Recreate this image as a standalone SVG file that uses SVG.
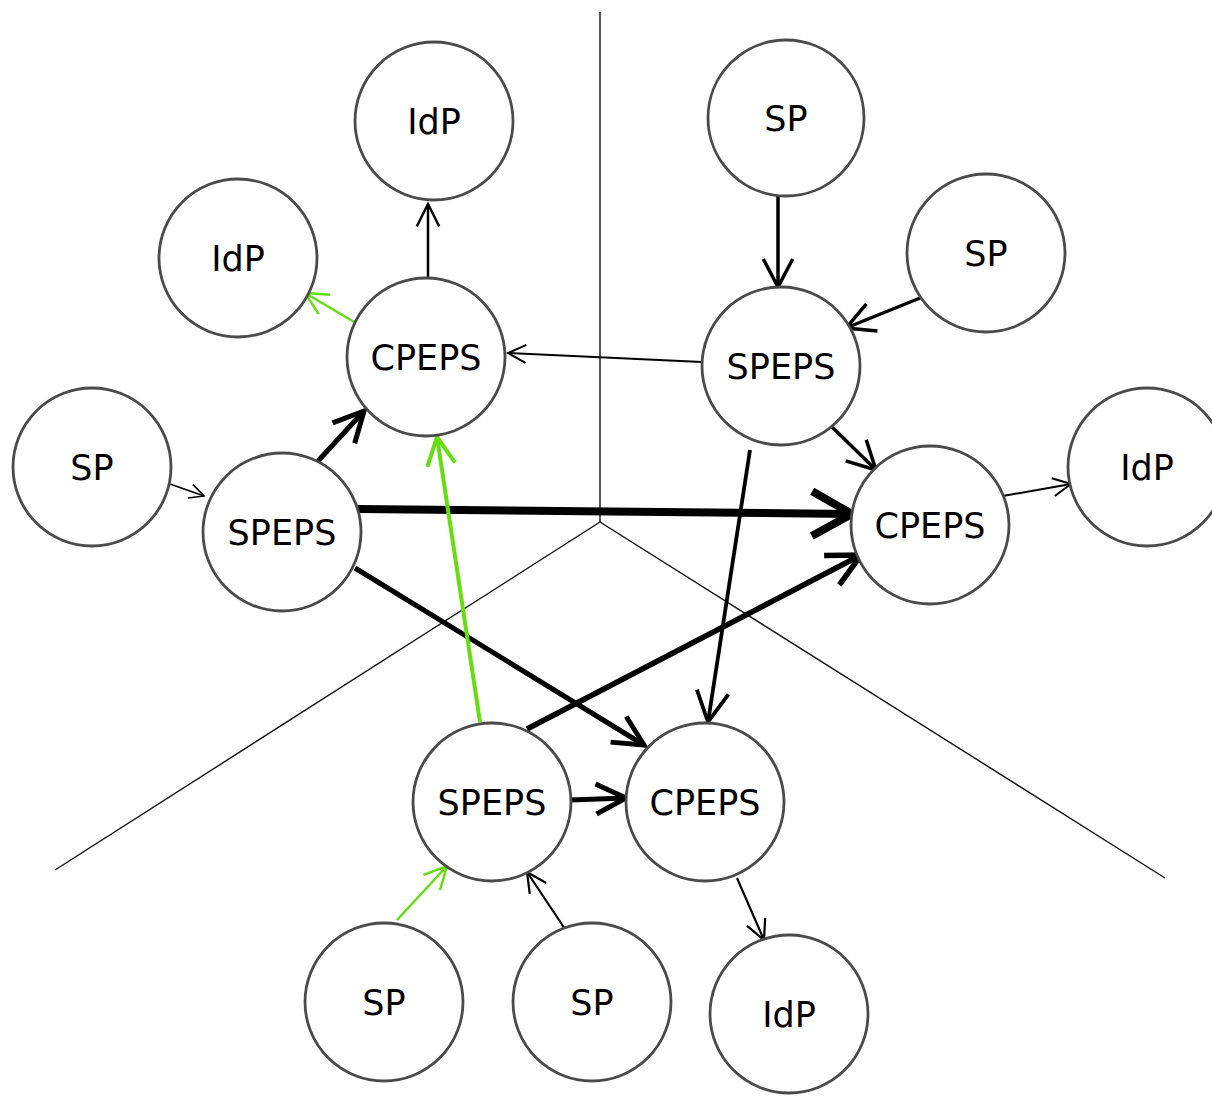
<svg xmlns="http://www.w3.org/2000/svg" width="1212" height="1097" viewBox="0 0 1212 1097">
<style>
.node circle{fill:#fff;stroke:#4a4a4a;stroke-width:2.8}
.node text{font-family:"DejaVu Sans","Liberation Sans",sans-serif;font-size:35px;text-anchor:middle;fill:#000}
.bg line{stroke:#111;stroke-width:1.4}
.c line{stroke:#000;fill:none}
.c .t{marker-end:url(#ah-t)}
.c .m{marker-end:url(#ah-m)}
.c .k{marker-end:url(#ah-k)}
.c .b{marker-end:url(#ah-b)}
.c line.g{stroke:#66dd11}
.c .gt{marker-end:url(#ahg-t)}
.c .gm{marker-end:url(#ahg-m)}
</style>
<defs>
<marker id="ah-t" viewBox="-12 -6 13 12" markerWidth="13" markerHeight="12" refX="0" refY="0" orient="auto" markerUnits="strokeWidth" overflow="visible">
<path d="M-9,-4.5 L0,0 L-9,4.5" fill="none" stroke="#000" stroke-width="1"/>
</marker>
<marker id="ah-m" viewBox="-12 -6 13 12" markerWidth="13" markerHeight="12" refX="0" refY="0" orient="auto" markerUnits="strokeWidth" overflow="visible">
<path d="M-8,-4.2 L0,0 L-8,4.2" fill="none" stroke="#000" stroke-width="1"/>
</marker>
<marker id="ah-k" viewBox="-12 -6 13 12" markerWidth="13" markerHeight="12" refX="0" refY="0" orient="auto" markerUnits="strokeWidth" overflow="visible">
<path d="M-6,-3 L0,0 L-6,3" fill="none" stroke="#000" stroke-width="1"/>
</marker>
<marker id="ah-b" viewBox="-12 -6 13 12" markerWidth="13" markerHeight="12" refX="0" refY="0" orient="auto" markerUnits="strokeWidth" overflow="visible">
<path d="M-5,-2.8 L0,0 L-5,2.8" fill="none" stroke="#000" stroke-width="1"/>
</marker>
<marker id="ahg-t" viewBox="-12 -6 13 12" markerWidth="13" markerHeight="12" refX="0" refY="0" orient="auto" markerUnits="strokeWidth" overflow="visible">
<path d="M-9,-4.5 L0,0 L-9,4.5" fill="none" stroke="#66dd11" stroke-width="1"/>
</marker>
<marker id="ahg-m" viewBox="-12 -6 13 12" markerWidth="13" markerHeight="12" refX="0" refY="0" orient="auto" markerUnits="strokeWidth" overflow="visible">
<path d="M-7,-3.5 L0,0 L-7,3.5" fill="none" stroke="#66dd11" stroke-width="1"/>
</marker>
</defs>
<rect width="1212" height="1097" fill="#fff"/>
<g class="bg">
<line x1="600" y1="12" x2="600" y2="522"/>
<line x1="600" y1="522" x2="55" y2="870"/>
<line x1="600" y1="522" x2="1165" y2="878"/>
</g>
<g class="c">
<line class="t" x1="428" y1="277" x2="428" y2="204" style="stroke-width:2.5"/>
<line class="g gt" x1="356" y1="323" x2="305" y2="293" style="stroke-width:2.5"/>
<line class="t" x1="702" y1="362" x2="508" y2="353" style="stroke-width:2"/>
<line class="t" x1="170" y1="484" x2="204" y2="496" style="stroke-width:1.6"/>
<line class="k" x1="318" y1="461" x2="364" y2="411" style="stroke-width:5"/>
<line class="b" x1="358" y1="509" x2="852" y2="514" style="stroke-width:8"/>
<line class="k" x1="355" y1="568" x2="644" y2="745" style="stroke-width:5"/>
<line class="g gm" x1="480" y1="722" x2="437" y2="437" style="stroke-width:4"/>
<line class="k" x1="527" y1="729" x2="861" y2="555" style="stroke-width:5.5"/>
<line class="k" x1="570" y1="800" x2="626" y2="798" style="stroke-width:5"/>
<line class="m" x1="778" y1="196" x2="778" y2="287" style="stroke-width:3.5"/>
<line class="m" x1="920" y1="298" x2="846" y2="328" style="stroke-width:3.5"/>
<line class="m" x1="830" y1="425" x2="876" y2="470" style="stroke-width:3.5"/>
<line class="m" x1="750" y1="450" x2="708" y2="722" style="stroke-width:3.8"/>
<line class="t" x1="1003" y1="496" x2="1071" y2="484" style="stroke-width:2"/>
<line class="g gt" x1="397" y1="920" x2="447" y2="866" style="stroke-width:2.5"/>
<line class="t" x1="565" y1="929" x2="527" y2="872" style="stroke-width:2.2"/>
<line class="t" x1="737" y1="878" x2="764" y2="940" style="stroke-width:2.2"/>
</g>
<g id="idp-top" class="node"><circle cx="434" cy="121" r="79"/><text x="434" y="134">IdP</text></g>
<g id="idp-left" class="node"><circle cx="238" cy="258" r="79"/><text x="238" y="271">IdP</text></g>
<g id="cpeps-tl" class="node"><circle cx="426" cy="357" r="79"/><text x="426" y="370">CPEPS</text></g>
<g id="sp-left" class="node"><circle cx="92" cy="467" r="79"/><text x="92" y="480">SP</text></g>
<g id="speps-left" class="node"><circle cx="282" cy="532" r="79"/><text x="282" y="545">SPEPS</text></g>
<g id="sp-top" class="node"><circle cx="786" cy="118" r="78"/><text x="786" y="131">SP</text></g>
<g id="sp-right" class="node"><circle cx="986" cy="253" r="79"/><text x="986" y="266">SP</text></g>
<g id="speps-right" class="node"><circle cx="781" cy="366" r="79"/><text x="781" y="379">SPEPS</text></g>
<g id="cpeps-right" class="node"><circle cx="930" cy="525" r="79"/><text x="930" y="538">CPEPS</text></g>
<g id="idp-right" class="node"><circle cx="1147" cy="467" r="79"/><text x="1147" y="480">IdP</text></g>
<g id="speps-bottom" class="node"><circle cx="492" cy="802" r="79"/><text x="492" y="815">SPEPS</text></g>
<g id="cpeps-bottom" class="node"><circle cx="705" cy="802" r="79"/><text x="705" y="815">CPEPS</text></g>
<g id="sp-bl" class="node"><circle cx="384" cy="1002" r="79"/><text x="384" y="1015">SP</text></g>
<g id="sp-bm" class="node"><circle cx="592" cy="1002" r="79"/><text x="592" y="1015">SP</text></g>
<g id="idp-bottom" class="node"><circle cx="789" cy="1014" r="79"/><text x="789" y="1027">IdP</text></g>
</svg>
